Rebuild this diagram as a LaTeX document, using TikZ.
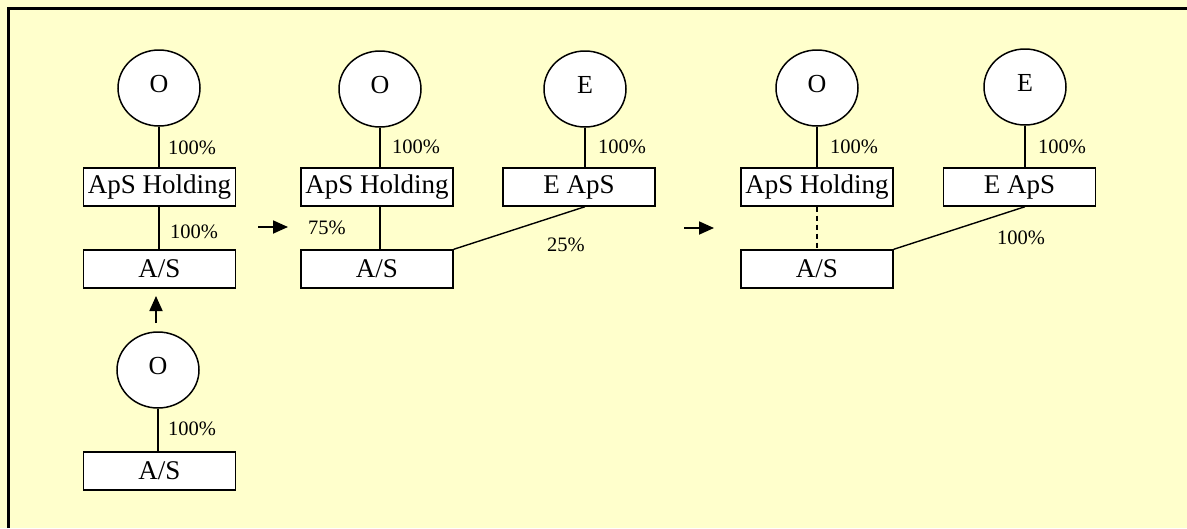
\documentclass[tikz,border=0pt]{standalone}
\usepackage{fontspec}
\setmainfont{Liberation Serif}
\usetikzlibrary{shapes.geometric,arrows.meta,calc}
\definecolor{paper}{HTML}{FFFFCC}
\begin{document}
\begin{tikzpicture}[x=1pt,y=-1pt,
  entity/.style={draw,fill=white,line width=1.4pt,minimum width=152pt,minimum height=38pt,inner sep=0pt,
    font=\fontsize{27}{29}\selectfont},
  owner/.style={draw,fill=white,ellipse,line width=1.5pt,minimum width=82pt,minimum height=76pt,inner sep=0pt,
    font=\fontsize{26}{28}\selectfont},
  share/.style={anchor=west,inner sep=0pt,font=\fontsize{20.5}{22}\selectfont},
  link/.style={line width=1.4pt},
  step arrow/.style={line width=1.8pt,-{Triangle[length=15pt,width=13pt]}}]
% background and frame
\useasboundingbox (0,0) rectangle (1187,528);
\fill[paper] (0,0) rectangle (1187,528);
\draw[line width=3.5pt] (8.5,528) -- (8.5,8.5) -- (1187,8.5);

% first stage
\node[owner] (o1) at (159,88) {\raisebox{9pt}{O}};
\node[entity] (h1) at (159.5,187) {ApS Holding};
\node[entity] (a1) at (159.5,269) {A/S};
\draw[link] (o1.south) -- (o1 |- h1.north);
\draw[link] (o1 |- h1.south) -- (o1 |- a1.north);
\node[share] (p11) at (168,148) {100\%};
\node[share] (p12) at (170,232) {100\%};

% earlier structure below
\node[owner] (o0) at (158,370) {\raisebox{9pt}{O}};
\node[entity] (a0) at (159.5,471) {A/S};
\draw[link] (o0.south) -- (o0 |- a0.north);
\node[share] (p01) at (168,429) {100\%};
\coordinate (u0) at (156,323);
\coordinate (u1) at (156,296);
\draw[step arrow] (u0) -- (u1);

% second stage
\coordinate (r0) at (258,227);
\coordinate (r1) at (288,227);
\draw[step arrow] (r0) -- (r1);
\node[owner] (o2) at (380,89) {\raisebox{9pt}{O}};
\node[entity] (h2) at (377,187) {ApS Holding};
\node[entity] (a2) at (377,269) {A/S};
\node[owner] (e2) at (585,89) {\raisebox{9pt}{E}};
\node[entity] (ea2) at (579,187) {E ApS};
\draw[link] (o2.south) -- (o2 |- h2.north);
\draw[link] (o2 |- h2.south) -- (o2 |- a2.north);
\draw[link] (e2.south) -- (e2 |- ea2.north);
\draw[link] (e2 |- ea2.south) -- (a2.north east);
\node[share] (p21) at (392,147) {100\%};
\node[share] (p22) at (598,147) {100\%};
\node[share] (p23) at (308,228) {75\%};
\node[share] (p24) at (547,245) {25\%};

% third stage
\coordinate (s0) at (684,228);
\coordinate (s1) at (714,228);
\draw[step arrow] (s0) -- (s1);
\node[owner] (o3) at (817,88) {\raisebox{9pt}{O}};
\node[entity] (h3) at (817,187) {ApS Holding};
\node[entity] (a3) at (817,269) {A/S};
\node[owner] (e3) at (1025,87) {\raisebox{9pt}{E}};
\node[entity] (ea3) at (1019.5,187) {E ApS};
\draw[link] (o3.south) -- (o3 |- h3.north);
\draw[link,dash pattern=on 5pt off 4pt] (o3 |- h3.south) -- (o3 |- a3.north);
\draw[link] (e3.south) -- (e3 |- ea3.north);
\draw[link] (e3 |- ea3.south) -- (a3.north east);
\node[share] (p31) at (830,147) {100\%};
\node[share] (p32) at (1038,147) {100\%};
\node[share] (p33) at (997,238) {100\%};
\end{tikzpicture}
\end{document}
